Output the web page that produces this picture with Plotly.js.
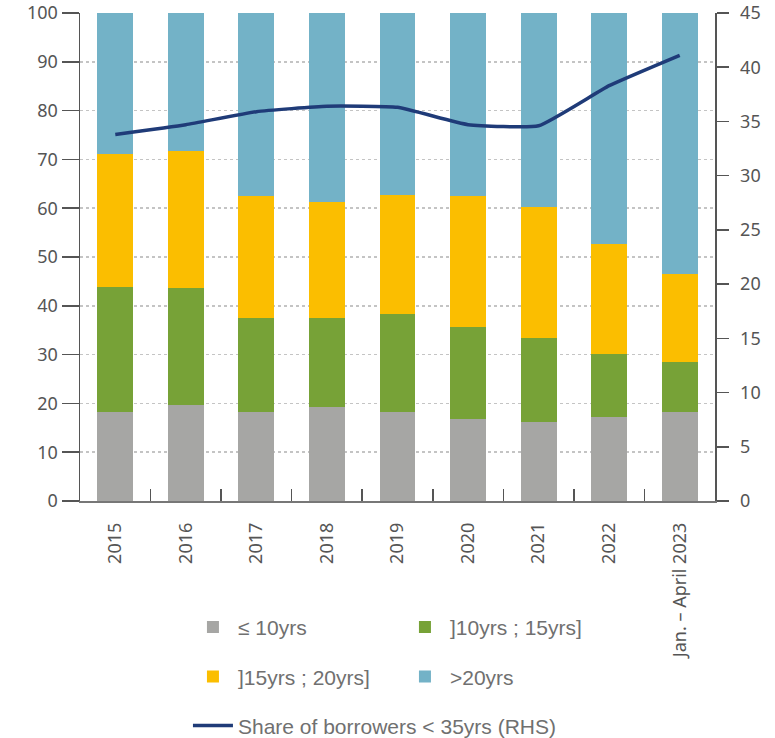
<!DOCTYPE html>
<html>
<head>
<meta charset="utf-8">
<script src="https://cdn.plot.ly/plotly-3.0.1.min.js"></script>
<style>html,body{margin:0;padding:0;background:#fff;}#chart{width:775px;height:738px;}</style>
</head>
<body>
<div id="chart"></div>
<script>
const categories = ["2015","2016","2017","2018","2019","2020","2021","2022","Jan. – April 2023"];
const le10 = [18.3, 19.6, 18.3, 19.3, 18.3, 16.9, 16.1, 17.2, 18.3];
const y10to15 = [25.5, 24.0, 19.1, 18.1, 20.0, 18.7, 17.4, 12.9, 10.2];
const y15to20 = [27.4, 28.2, 25.0, 23.9, 24.5, 26.8, 26.7, 22.6, 18.0];
const gt20 = [28.8, 28.2, 37.6, 38.7, 37.2, 37.6, 39.8, 47.3, 53.9];
const shareUnder35 = [33.8, 34.7, 35.9, 36.4, 36.3, 34.7, 34.6, 38.3, 41.1];

const names = ["≤ 10yrs", "]10yrs ; 15yrs]", "]15yrs ; 20yrs]", ">20yrs", "Share of borrowers < 35yrs (RHS)"];
const colors = ["#a6a6a4", "#77a237", "#fbbe00", "#73b2c7", "#1f3b78"];

const barSeries = [le10, y10to15, y15to20, gt20];
const legendIds = ["legend", "legend", "legend2", "legend2"];
const traces = barSeries.map((vals, i) => ({
  type: "bar",
  x: categories,
  y: vals,
  name: names[i],
  marker: {color: colors[i], line: {width: 0}},
  legend: legendIds[i],
  hoverinfo: "y+name"
}));
traces.push({
  type: "scatter",
  mode: "lines",
  x: categories,
  y: shareUnder35,
  yaxis: "y2",
  name: names[4],
  line: {color: colors[4], width: 3.5, shape: "spline", smoothing: 0.4},
  legend: "legend3"
});

const tickFont = {family: "Noto Sans, sans-serif", size: 18, color: "#555555"};
const legFont = {family: "Liberation Sans, Arial, sans-serif", size: 21, color: "#707070"};
const legCommon = {orientation: "h", xanchor: "left", yanchor: "middle", yref: "container",
  traceorder: "normal", itemwidth: 40, font: legFont,
  bgcolor: "rgba(0,0,0,0)", borderwidth: 0, itemclick: false};

const layout = {
  width: 775, height: 738,
  margin: {l: 80, r: 60, t: 13, b: 237},
  paper_bgcolor: "#ffffff", plot_bgcolor: "#ffffff",
  barmode: "stack",
  bargap: 0.49,
  showlegend: true,
  xaxis: {
    type: "category",
    range: [-0.5, 8.5],
    tickangle: -90,
    tickfont: tickFont,
    ticks: "inside", tickson: "boundaries", ticklen: 12, tickcolor: "#555555", tickwidth: 1.5,
    showline: true, linecolor: "#777777", linewidth: 1.5,
    showgrid: false, zeroline: false,
    ticklabelstandoff: 13,
    automargin: false,
    fixedrange: true
  },
  yaxis: {
    range: [0, 100], dtick: 10,
    tickfont: tickFont,
    ticks: "outside", ticklen: 17, tickcolor: "#555555", tickwidth: 1.5,
    showline: true, linecolor: "#555555", linewidth: 1.5,
    showgrid: true, gridcolor: "#c4c4c4", griddash: "dot", gridwidth: 1.5,
    zeroline: false,
    automargin: false,
    fixedrange: true
  },
  yaxis2: {
    overlaying: "y", side: "right",
    range: [0, 45], dtick: 5,
    tickfont: tickFont,
    ticks: "outside", ticklen: 12, tickcolor: "#555555", tickwidth: 1.5,
    showline: true, linecolor: "#555555", linewidth: 1.5,
    showgrid: false, zeroline: false,
    ticklabelstandoff: 8,
    automargin: false,
    fixedrange: true
  },
  legend: Object.assign({x: 0.17, y: 0.150, entrywidth: 157, entrywidthmode: "pixels"}, legCommon),
  legend2: Object.assign({x: 0.17, y: 0.0827, entrywidth: 157, entrywidthmode: "pixels"}, legCommon),
  legend3: Object.assign({x: 0.17, y: 0.0163}, legCommon)
};

Plotly.newPlot("chart", traces, layout, {displayModeBar: false, staticPlot: true});
</script>
</body>
</html>
